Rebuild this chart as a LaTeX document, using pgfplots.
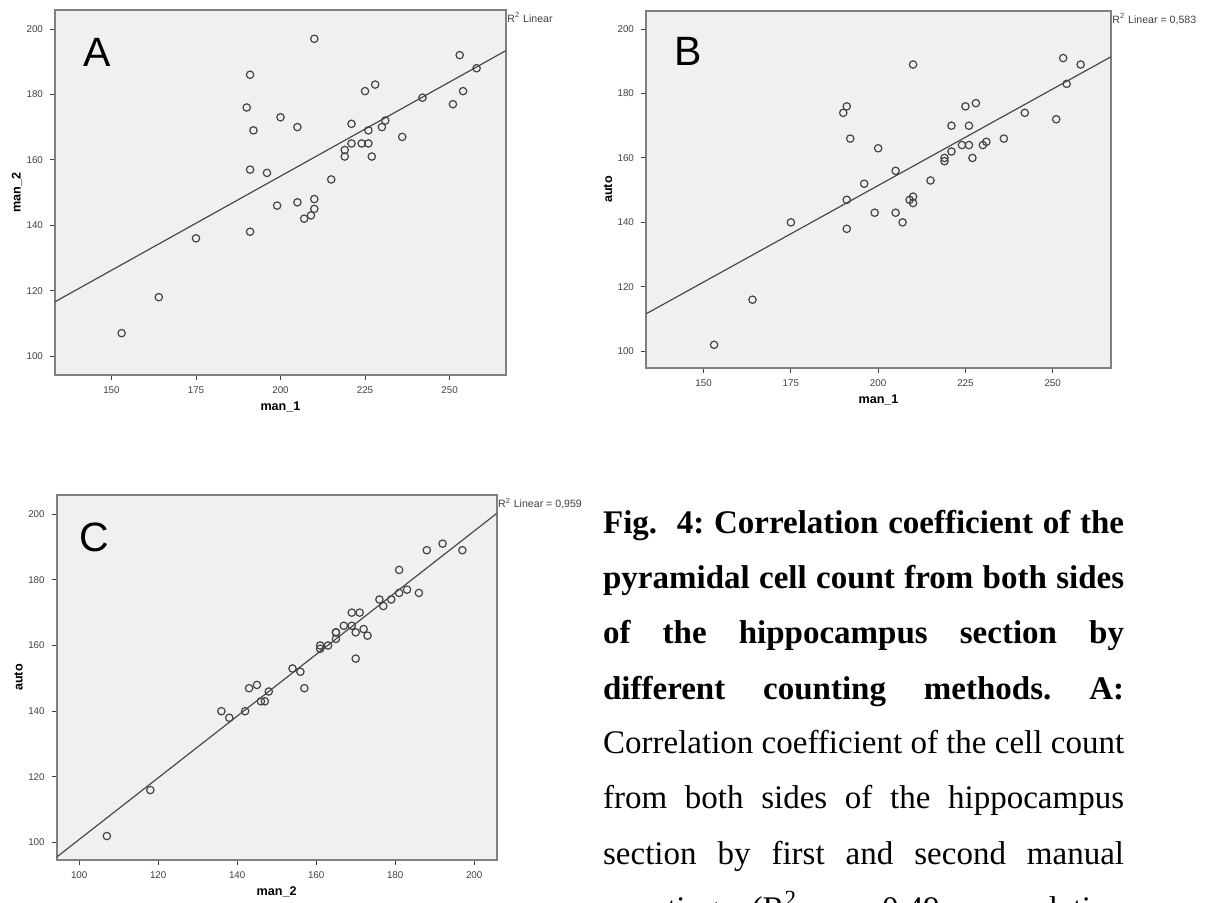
\documentclass[border=0pt]{standalone}
\usepackage{pgfplots}
\pgfplotsset{compat=1.18}
\usepackage{pgfplotstable}
\usepackage{fontspec}
\setmainfont{Liberation Serif}
\newfontfamily\arial{Liberation Sans}
\frenchspacing

\definecolor{bgGray}{HTML}{F0F0F0}
\definecolor{frameGray}{HTML}{808080}
\definecolor{dotGray}{HTML}{444444}
\definecolor{lineGray}{HTML}{4A4A4A}

% one row per section: first manual count, second manual count, automatic count
\pgfplotstableread{
man1 man2 auto
153 107 102
164 118 116
175 136 140
191 138 138
191 157 147
191 186 176
190 176 174
192 169 166
196 156 152
199 146 143
200 173 163
205 170 156
205 147 143
207 142 140
209 143 147
210 145 148
210 148 146
210 197 189
215 154 153
219 161 159
219 163 160
221 171 170
221 165 162
224 165 164
226 165 164
226 169 170
225 181 176
228 183 177
227 161 160
230 170 164
231 172 165
236 167 166
242 179 174
251 177 172
253 192 191
254 181 183
258 188 189
}\counts

\pgfplotsset{
  spss/.style={
    scale only axis,
    axis background/.style={fill=bgGray},
    axis line style={draw=frameGray, line width=0.9pt},
    tick pos=left, tick align=outside,
    major tick length=2.5pt,
    tick style={draw=black!75, line width=0.45pt},
    tick label style={font=\arial\fontsize{4.9}{5.5}\selectfont, text=black!75},
    /pgf/number format/assume math mode=true,
    label style={font=\arial\bfseries\fontsize{6.3}{7}\selectfont},
    xlabel style={at={([yshift=-16pt]axis description cs:0.5,0)}, anchor=center},
    ylabel style={at={([xshift=-19pt]axis description cs:0,0.5)}, anchor=center},
  },
  dots/.style={only marks, mark=o, mark size=1.85pt,
               mark options={draw=dotGray, line width=0.6pt}},
  fitline/.style={no marks, draw=lineGray, line width=0.6pt},
}
\tikzset{
  panel/.style={anchor=north west, inner sep=0, font=\arial\fontsize{20.5}{24}\selectfont},
  rsq/.style={anchor=north west, inner sep=0, font=\arial\fontsize{5.3}{6}\selectfont, text=black!75},
  captext/.style={anchor=base west, inner sep=0, font=\fontsize{16.5}{27.5}\selectfont},
}

\begin{document}
\begin{tikzpicture}
\path[use as bounding box] (0,0) rectangle (604pt,-451pt);
\clip (0,0) rectangle (604pt,-451pt);

% A: man_1 vs man_2
\begin{axis}[spss, name=pa,
  at={(27.5pt,-187.5pt)}, anchor=south west,
  width=225.5pt, height=182.5pt,
  xmin=133.3, xmax=266.7, ymin=94.2, ymax=205.8,
  xtick={150,175,200,225,250}, ytick={100,120,140,160,180,200},
  xlabel={man\_1}, ylabel={man\_2}]
  \addplot[fitline] coordinates {(133.3,116.6) (266.7,193.4)};
  \addplot[dots] table[x=man1, y=man2] {\counts};
\end{axis}
\node[panel] at ([xshift=14pt,yshift=-14pt]pa.north west) {A};
\node[rsq] at ([xshift=0.5pt,yshift=-1.2pt]pa.north east) {R\textsuperscript{2} Linear};

% B: man_1 vs auto
\begin{axis}[spss, name=pb,
  at={(323pt,-184pt)}, anchor=south west,
  width=232.5pt, height=178.5pt,
  xmin=133.5, xmax=266.7, ymin=94.8, ymax=205.6,
  xtick={150,175,200,225,250}, ytick={100,120,140,160,180,200},
  xlabel={man\_1}, ylabel={auto}]
  \addplot[fitline] coordinates {(133.5,111.6) (266.7,191.4)};
  \addplot[dots] table[x=man1, y=auto] {\counts};
\end{axis}
\node[panel] at ([xshift=14pt,yshift=-13pt]pb.north west) {B};
\node[rsq] at ([xshift=0.5pt,yshift=-1.2pt]pb.north east) {R\textsuperscript{2} Linear = 0,583};

% C: man_2 vs auto
\begin{axis}[spss, name=pc,
  at={(28.35pt,-430pt)}, anchor=south west,
  width=220pt, height=182.5pt,
  xmin=94.3, xmax=205.7, ymin=94.7, ymax=205.8,
  xtick={100,120,140,160,180,200}, ytick={100,120,140,160,180,200},
  xlabel={man\_2}, ylabel={auto}]
  \addplot[fitline] coordinates {(94.3,95.6) (205.7,200.2)};
  \addplot[dots] table[x=man2, y=auto] {\counts};
\end{axis}
\node[panel] at ([xshift=11pt,yshift=-13.5pt]pc.north west) {C};
\node[rsq] at ([xshift=0.5pt,yshift=-1.2pt]pc.north east) {R\textsuperscript{2} Linear = 0,959};

% caption, one justified line per node (last line cut by the page edge, as in the source)
\node[captext] at (301.35pt,-266.5pt) {\makebox[260.5pt][s]{\bfseries Fig.\ \ 4: Correlation coefficient of the}};
\node[captext] at (301.35pt,-294pt)   {\makebox[260.5pt][s]{\bfseries pyramidal cell count from both sides}};
\node[captext] at (301.35pt,-321.5pt) {\makebox[260.5pt][s]{\bfseries of the hippocampus section by}};
\node[captext] at (301.35pt,-349.5pt) {\makebox[260.5pt][s]{\bfseries different counting methods. A:}};
\node[captext] at (301.35pt,-376.5pt) {\makebox[260.5pt][s]{Correlation coefficient of the cell count}};
\node[captext] at (301.35pt,-404pt)   {\makebox[260.5pt][s]{from both sides of the hippocampus}};
\node[captext] at (301.35pt,-432pt)   {\makebox[260.5pt][s]{section by first and second manual}};
\node[captext] at (301.35pt,-459.5pt) {\makebox[260.5pt][s]{counting (R\textsuperscript{2} = 0.49, correlation}};
\end{tikzpicture}
\end{document}
